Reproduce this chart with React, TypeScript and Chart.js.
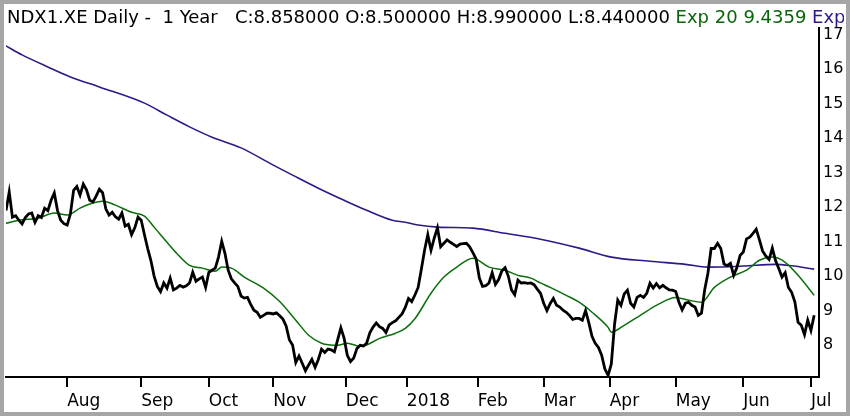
import React, { useEffect, useRef } from "react";
import { Chart, registerables } from "chart.js";

Chart.register(...registerables);

// Daily closes (trading-day index 0..251)
const closes: number[] = [
  11.90, 12.44, 11.71, 11.75, 11.62, 11.51, 11.70, 11.80, 11.83, 11.56,
  11.75, 11.70, 11.97, 11.90, 12.20, 12.41, 11.90, 11.62, 11.52, 11.48,
  11.80, 12.49, 12.60, 12.35, 12.67, 12.50, 12.20, 12.15, 12.32, 12.52,
  12.42, 11.95, 11.77, 11.85, 11.72, 11.65, 11.83, 11.45, 11.50, 11.20,
  11.40, 11.71, 11.62, 11.20, 10.80, 10.45, 10.00, 9.70, 9.55, 9.80,
  9.65, 9.94, 9.60, 9.65, 9.73, 9.68, 9.72, 9.80, 10.11, 9.85,
  9.92, 9.97, 9.67, 10.11, 10.17, 10.23, 10.55, 11.01, 10.66, 10.17,
  9.92, 9.80, 9.70, 9.42, 9.36, 9.38, 9.18, 9.01, 8.95, 8.80,
  8.86, 8.92, 8.92, 8.90, 8.93, 8.85, 8.75, 8.55, 8.15, 8.00,
  7.49, 7.68, 7.47, 7.25, 7.42, 7.58, 7.35, 7.58, 7.88, 7.78,
  7.88, 7.86, 7.80, 8.15, 8.50, 8.20, 7.70, 7.52, 7.62, 7.90,
  7.99, 7.97, 8.05, 8.35, 8.52, 8.64, 8.53, 8.48, 8.36, 8.58,
  8.65, 8.70, 8.80, 8.90, 9.09, 9.35, 9.26, 9.45, 9.67, 10.20,
  10.75, 11.20, 10.75, 11.10, 11.40, 10.85, 10.95, 11.05, 10.98, 10.92,
  10.86, 10.93, 10.94, 10.95, 10.85, 10.68, 10.50, 9.95, 9.70, 9.72,
  9.80, 10.10, 9.76, 9.90, 10.15, 10.24, 10.00, 9.60, 9.46, 9.88,
  9.80, 9.81, 9.79, 9.80, 9.75, 9.62, 9.50, 9.21, 9.00, 9.20,
  9.35, 9.15, 9.10, 9.01, 8.95, 8.86, 8.74, 8.77, 8.77, 8.72,
  9.00, 8.65, 8.25, 8.05, 7.93, 7.70, 7.30, 7.12, 7.45, 8.60,
  9.30, 9.15, 9.48, 9.59, 9.21, 9.10, 9.38, 9.44, 9.38, 9.50,
  9.79, 9.65, 9.78, 9.66, 9.73, 9.66, 9.60, 9.59, 9.55, 9.24,
  9.02, 9.21, 9.24, 9.15, 9.10, 8.86, 8.92, 9.60, 10.08, 10.80,
  10.80, 10.95, 10.80, 10.35, 10.30, 10.37, 10.02, 10.25, 10.60, 10.70,
  11.08, 11.13, 11.24, 11.36, 11.05, 10.72, 10.58, 10.48, 10.81, 10.45,
  10.22, 9.97, 10.10, 9.67, 9.53, 9.25, 8.66, 8.57, 8.30, 8.72,
  8.42, 8.86,
];

// Exp 20 (green) at selected trading days
const ema20Idx: number[] = [
  0, 4, 10, 15, 19, 23, 26, 30, 34, 39, 43, 46, 50, 53, 57, 61, 65, 67, 70, 74,
  80, 85, 90, 94, 98, 103, 106, 110, 112, 116, 121, 124, 127, 132, 136, 140, 145,
  150, 155, 159, 163, 166, 169, 174, 178, 182, 187, 188, 192, 197, 202, 208, 212,
  216, 220, 225, 230, 234, 238, 242, 246, 251,
];
const ema20Vals: number[] = [
  11.53, 11.62, 11.68, 11.83, 11.77, 11.97, 12.09, 12.17, 12.06, 11.85, 11.74,
  11.42, 10.98, 10.66, 10.31, 10.23, 10.14, 10.26, 10.23, 9.97, 9.65, 9.26, 8.72,
  8.28, 8.05, 7.99, 8.05, 7.96, 8.00, 8.19, 8.34, 8.48, 8.76, 9.50, 9.97, 10.26,
  10.52, 10.26, 10.17, 10.02, 9.94, 9.80, 9.67, 9.44, 9.24, 8.95, 8.51, 8.37,
  8.57, 8.86, 9.15, 9.38, 9.30, 9.24, 9.67, 9.97, 10.17, 10.46, 10.55, 10.40,
  10.02, 9.44,
];

// Long exponential average (blue)
const longIdx: number[] = [
  0, 5, 13, 20, 29, 43, 50, 57, 64, 73, 83, 89, 97, 105, 112, 120, 124, 128, 134,
  145, 155, 166, 178, 188, 200, 211, 218, 229, 239, 244, 251,
];
const longVals: number[] = [
  16.68, 16.42, 16.07, 15.78, 15.49, 15.02, 14.67, 14.33, 14.03, 13.72, 13.22,
  12.93, 12.55, 12.2, 11.91, 11.62, 11.56, 11.48, 11.42, 11.39, 11.24, 11.07,
  10.81, 10.55, 10.43, 10.34, 10.26, 10.29, 10.34, 10.3, 10.2,
];

// Month ticks (trading-day positions) and their labels
const monthTickIdx: number[] = [19, 42, 63, 83, 105.5, 124.5, 146.5, 167, 187.5, 208, 229, 250];
const monthLabels: string[] = ["Aug", "Sep", "Oct", "Nov", "Dec", "2018", "Feb", "Mar", "Apr", "May", "Jun", "Jul"];
const yTickValues: number[] = [8, 9, 10, 11, 12, 13, 14, 15, 16, 17];

const titleParts = [
  { text: "NDX1.XE Daily -  1 Year   C:8.858000 O:8.500000 H:8.990000 L:8.440000 ", color: "#000000" },
  { text: "Exp 20 9.4359 ", color: "#0b640b" },
  { text: "Exp", color: "#2a1a8a" },
];

const FONT = "'DejaVu Sans', Verdana, sans-serif";

const framePlugin = {
  id: "frame",
  afterDraw(chart: any) {
    const ctx = chart.ctx;
    ctx.save();
    ctx.beginPath();
    ctx.rect(4, 0, 840, 28);
    ctx.clip();
    ctx.font = `18px ${FONT}`;
    ctx.textBaseline = "alphabetic";
    let x = 7;
    for (const p of titleParts) {
      ctx.fillStyle = p.color;
      ctx.fillText(p.text, x, 23);
      x += ctx.measureText(p.text).width;
    }
    ctx.restore();
    ctx.save();
    ctx.strokeStyle = "#a6a6a6";
    ctx.lineWidth = 4;
    ctx.strokeRect(2, 2, chart.width - 4, chart.height - 4);
    ctx.restore();
  },
};

export default function App() {
  const ref = useRef<HTMLCanvasElement | null>(null);
  useEffect(() => {
    if (!ref.current) return;
    const chart = new Chart(ref.current, {
      type: "line",
      data: {
        datasets: [
          {
            label: "Close",
            data: closes.map((v, i) => ({ x: i, y: v })),
            borderColor: "#000000",
            borderWidth: 2.8,
            pointRadius: 0,
            tension: 0,
          },
          {
            label: "Exp 20",
            data: ema20Idx.map((d, i) => ({ x: d, y: ema20Vals[i] })),
            borderColor: "#0b6e0b",
            borderWidth: 1.5,
            pointRadius: 0,
            cubicInterpolationMode: "monotone",
          },
          {
            label: "Exp 200",
            data: longIdx.map((d, i) => ({ x: d, y: longVals[i] })),
            borderColor: "#2a1a8a",
            borderWidth: 1.6,
            pointRadius: 0,
            cubicInterpolationMode: "monotone",
          },
        ],
      },
      options: {
        responsive: false,
        animation: false,
        devicePixelRatio: 1,
        layout: { padding: { left: 6, top: 28, right: 0, bottom: 0 } },
        plugins: { legend: { display: false }, tooltip: { enabled: false }, title: { display: false } },
        scales: {
          x: {
            type: "linear",
            min: 0,
            max: 252.5,
            afterBuildTicks: (scale: any) => {
              scale.ticks = monthTickIdx.map((v) => ({ value: v }));
            },
            afterFit: (scale: any) => {
              scale.height = 39;
            },
            grid: {
              display: true,
              drawOnChartArea: false,
              drawTicks: true,
              tickLength: 10,
              color: "#000000",
              lineWidth: 2,
            },
            border: { display: true, color: "#000000", width: 2 },
            ticks: {
              autoSkip: false,
              maxRotation: 0,
              minRotation: 0,
              align: "start",
              padding: 4,
              color: "#000000",
              font: { family: FONT, size: 17 },
              callback: (_v: any, i: number) => monthLabels[i],
            },
          },
          y: {
            type: "linear",
            position: "right",
            min: 7.07,
            max: 17.2,
            afterBuildTicks: (scale: any) => {
              scale.ticks = yTickValues.map((v) => ({ value: v }));
            },
            afterFit: (scale: any) => {
              scale.width = 31;
            },
            grid: { display: false, drawTicks: false },
            border: { display: true, color: "#000000", width: 2 },
            ticks: {
              padding: 4,
              color: "#000000",
              font: { family: FONT, size: 16 },
              callback: (v: any) => String(v),
            },
          },
        },
      },
      plugins: [framePlugin],
    });
    return () => chart.destroy();
  }, []);
  return (
    <div style={{ position: "absolute", left: 0, top: 0, width: 850, height: 416, background: "#ffffff" }}>
      <canvas ref={ref} width={850} height={416} style={{ display: "block" }} />
    </div>
  );
}
